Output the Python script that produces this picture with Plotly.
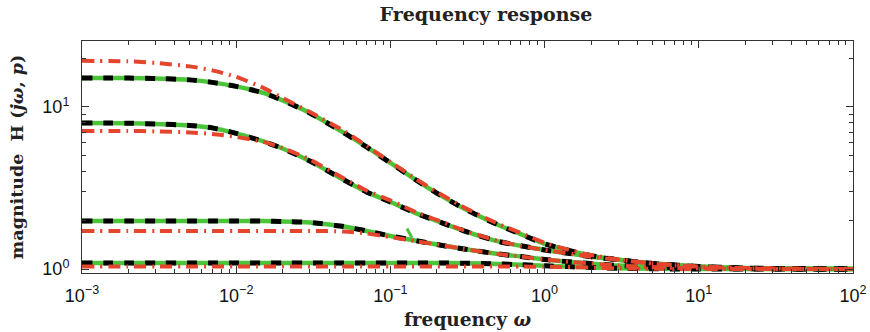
import plotly.graph_objects as go

# frequency grid (rad/s)
omega = [0.001, 0.002, 0.003, 0.005, 0.007, 0.01, 0.015, 0.02, 0.03, 0.05, 0.07, 0.1, 0.15,
         0.2, 0.3, 0.5, 0.7, 1, 1.5, 2, 3, 5, 7, 10, 20, 50, 100]

# black dashed curves
black_1 = [15.1, 15.06, 14.97, 14.68, 14.17, 13.38, 12.2, 10.97, 9.18, 6.91, 5.66, 4.51, 3.49,
           2.94, 2.36, 1.87, 1.64, 1.43, 1.29, 1.21, 1.14, 1.08, 1.06, 1.036, 1.014, 1.003, 1.0]
black_2 = [7.96, 7.93, 7.85, 7.69, 7.42, 6.86, 6.12, 5.54, 4.64, 3.54, 2.99, 2.59, 2.19,
           1.98, 1.72, 1.48, 1.39, 1.31, 1.24, 1.19, 1.14, 1.08, 1.054, 1.033, 1.011, 1.003, 1.0]
black_3 = [1.979, 1.979, 1.979, 1.979, 1.979, 1.979, 1.975, 1.965, 1.936, 1.83, 1.717, 1.598, 1.489,
           1.416, 1.329, 1.238, 1.194, 1.145, 1.105, 1.081, 1.051, 1.029, 1.017, 1.01, 1.003, 1.0, 1.0]
black_4 = [1.089, 1.089, 1.089, 1.089, 1.089, 1.089, 1.089, 1.089, 1.089, 1.089, 1.089, 1.089, 1.089,
           1.088, 1.086, 1.074, 1.062, 1.046, 1.032, 1.023, 1.011, 1.004, 1.001, 1.0, 1.0, 1.0, 1.0]

# green solid curves (lie on the black ones)
green_1 = black_1
green_2 = black_2
green_3 = black_3
green_4 = black_4
glitch_w = [0.128, 0.138]
glitch_v = [1.78, 1.56]

# red dash-dot curves
red_1 = [19.23, 19.1, 18.69, 17.78, 16.8, 15.32, 13.1, 11.36, 9.31, 7.11, 5.74, 4.58, 3.54,
         2.99, 2.4, 1.9, 1.67, 1.45, 1.3, 1.22, 1.145, 1.084, 1.06, 1.036, 1.014, 1.003, 1.0]
red_2 = [7.11, 7.11, 7.06, 6.96, 6.81, 6.53, 6.08, 5.58, 4.74, 3.62, 3.05, 2.65, 2.22,
         2.01, 1.73, 1.49, 1.39, 1.31, 1.24, 1.19, 1.14, 1.08, 1.054, 1.033, 1.011, 1.003, 1.0]
red_3 = [1.717, 1.717, 1.717, 1.717, 1.717, 1.717, 1.717, 1.717, 1.717, 1.704, 1.656, 1.575, 1.478,
         1.416, 1.329, 1.238, 1.194, 1.145, 1.105, 1.081, 1.051, 1.029, 1.017, 1.01, 1.003, 1.0, 1.0]
red_4 = [1.036, 1.036, 1.036, 1.036, 1.036, 1.036, 1.036, 1.036, 1.036, 1.036, 1.036, 1.036, 1.036,
         1.036, 1.036, 1.036, 1.035, 1.033, 1.027, 1.02, 1.011, 1.004, 1.001, 1.0, 1.0, 1.0, 1.0]

x_tickvals = [1e-3, 1e-2, 1e-1, 1, 10, 100]
x_ticktext = ["10<sup>−3</sup>", "10<sup>−2</sup>", "10<sup>−1</sup>", "10<sup>0</sup>", "10<sup>1</sup>", "10<sup>2</sup>"]
y_tickvals = [1, 10]
y_ticktext = ["10<sup>0</sup>", "10<sup>1</sup>"]
x_minor = [k * 10.0 ** d for d in range(-3, 2) for k in range(2, 10)]
y_minor = [k for k in range(2, 10)] + [20]

GREEN = "#4cc43a"
RED = "#e5452c"
BLACK = "#000000"

fig = go.Figure()
for g in [green_1, green_2, green_3, green_4]:
    fig.add_trace(go.Scatter(x=omega, y=g, mode="lines",
                             line=dict(color=GREEN, width=4.5, shape="spline", smoothing=0.6), showlegend=False))
fig.add_trace(go.Scatter(x=glitch_w, y=glitch_v, mode="lines", line=dict(color=GREEN, width=3), showlegend=False))
for b in [black_1, black_2, black_3, black_4]:
    fig.add_trace(go.Scatter(x=omega, y=b, mode="lines",
                             line=dict(color=BLACK, width=5, dash="10px,11px", shape="spline", smoothing=0.6),
                             showlegend=False))
for r in [red_1, red_2, red_3, red_4]:
    fig.add_trace(go.Scatter(x=omega, y=r, mode="lines",
                             line=dict(color=RED, width=4, dash="12px,6px,2px,6px", shape="spline", smoothing=0.6),
                             showlegend=False))

axis_common = dict(
    showline=True, linecolor="#333333", linewidth=1, mirror="ticks", automargin=False,
    ticks="inside", ticklen=7, tickcolor="#333333", showgrid=False, zeroline=False,
    tickfont=dict(family="Liberation Sans, Arial, sans-serif", size=18, color="#111111"),
)

fig.update_layout(
    width=870, height=332,
    margin=dict(l=82, r=17, t=41, b=59),
    paper_bgcolor="white", plot_bgcolor="white",
    title=dict(text="Frequency response", xref="container", x=0.5586, xanchor="center",
               yref="container", y=0.958, yanchor="middle", automargin=False,
               font=dict(family="DejaVu Serif, serif", size=19, color="#222222", weight="bold")),
    xaxis=dict(type="log", range=[-3, 2], tickvals=x_tickvals, ticktext=x_ticktext, ticklabelstandoff=6,
               minor=dict(tickvals=x_minor, ticks="inside", ticklen=4, tickcolor="#333333", showgrid=False),
               title=dict(text="frequency <i>ω</i>", standoff=8,
                          font=dict(family="DejaVu Serif, serif", size=18.5, color="#222222", weight="bold")),
               **axis_common),
    yaxis=dict(type="log", range=[-0.0246, 1.4065], tickvals=y_tickvals, ticktext=y_ticktext, ticklabelstandoff=8,
               minor=dict(tickvals=y_minor, ticks="inside", ticklen=4, tickcolor="#333333", showgrid=False),
               title=dict(text="magnitude  H (<i>jω</i>, <i>p</i>)", standoff=14,
                          font=dict(family="DejaVu Serif, serif", size=17.5, color="#222222", weight="bold")),
               **axis_common),
)

fig.write_html("out.html", config={"displayModeBar": False},
               post_script="document.body.style.margin='0px';document.body.style.padding='0px';")
